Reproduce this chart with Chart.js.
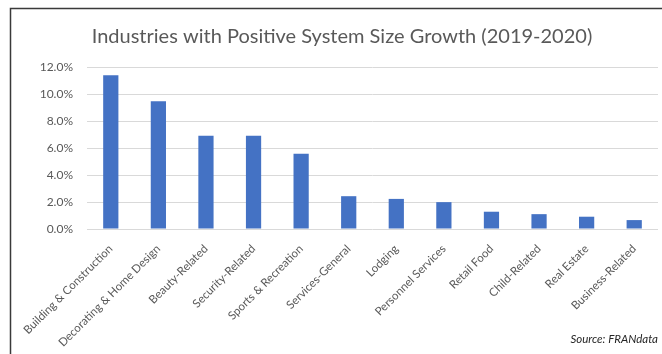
<!DOCTYPE html>
<html>
<head>
<meta charset="utf-8">
<script src="https://cdn.jsdelivr.net/npm/chart.js@4/dist/chart.umd.min.js"></script>
<style>
  html, body { margin: 0; padding: 0; background: #ffffff; }
  #wrap { position: relative; width: 662px; height: 354px; }
  canvas { display: block; }
</style>
</head>
<body>
<div id="wrap"><canvas id="c" width="662" height="354"></canvas></div>
<script>
const titleText = 'Industries with Positive System Size Growth (2019-2020)';
const sourceText = 'Source: FRANdata';
const categories = [
  'Building & Construction', 'Decorating & Home Design', 'Beauty-Related',
  'Security-Related', 'Sports & Recreation', 'Services-General', 'Lodging',
  'Personnel Services', 'Retail Food', 'Child-Related', 'Real Estate', 'Business-Related'
];
const growthValues = [11.38, 9.46, 6.9, 6.9, 5.58, 2.43, 2.23, 1.99, 1.28, 1.1, 0.91, 0.66];
const yTickMin = 0;
const yTickMax = 12;
const yTickStep = 2;

const framePlugin = {
  id: 'frameAndText',
  beforeDraw(chart) {
    const ctx = chart.ctx;
    ctx.save();
    ctx.strokeStyle = '#3a3a3a';
    ctx.lineWidth = 1.5;
    ctx.beginPath();
    ctx.moveTo(10.5, chart.height + 2);
    ctx.lineTo(10.5, 8.5);
    ctx.lineTo(chart.width + 2, 8.5);
    ctx.stroke();
    ctx.restore();
  },
  afterDraw(chart) {
    const ctx = chart.ctx;
    ctx.save();
    ctx.fillStyle = '#595959';
    ctx.font = '20px Lato';
    ctx.textAlign = 'center';
    ctx.textBaseline = 'alphabetic';
    ctx.fillText(titleText, 342, 43);
    ctx.fillStyle = '#262626';
    ctx.font = 'italic 11.5px Lato';
    ctx.textAlign = 'right';
    ctx.fillText(sourceText, 658, 343);
    ctx.restore();
  }
};

new Chart(document.getElementById('c'), {
  type: 'bar',
  data: {
    labels: categories,
    datasets: [{
      label: 'System Size Growth',
      data: growthValues,
      backgroundColor: '#4472c4',
      borderWidth: 0,
      categoryPercentage: 1.0,
      barPercentage: 0.32
    }]
  },
  options: {
    responsive: false,
    animation: false,
    devicePixelRatio: 1,
    layout: { padding: { top: 67, left: 0, right: 4, bottom: 0 } },
    plugins: {
      legend: { display: false },
      title: { display: false },
      tooltip: { enabled: false }
    },
    scales: {
      x: {
        grid: { display: false },
        border: { display: false },
        ticks: {
          minRotation: 45,
          maxRotation: 45,
          autoSkip: false,
          padding: 5,
          color: '#595959',
          font: { family: 'Lato', size: 11.5 }
        },
        afterFit(scale) { scale.height = 125; }
      },
      y: {
        min: yTickMin,
        max: yTickMax,
        ticks: {
          stepSize: yTickStep,
          padding: 14,
          color: '#595959',
          font: { family: 'Lato', size: 12 },
          callback: (v) => v.toFixed(1) + '%'
        },
        grid: { color: '#d9d9d9', lineWidth: 1, drawTicks: false },
        border: { display: false },
        afterFit(scale) { scale.width = 87; }
      }
    }
  },
  plugins: [framePlugin]
});
</script>
</body>
</html>
